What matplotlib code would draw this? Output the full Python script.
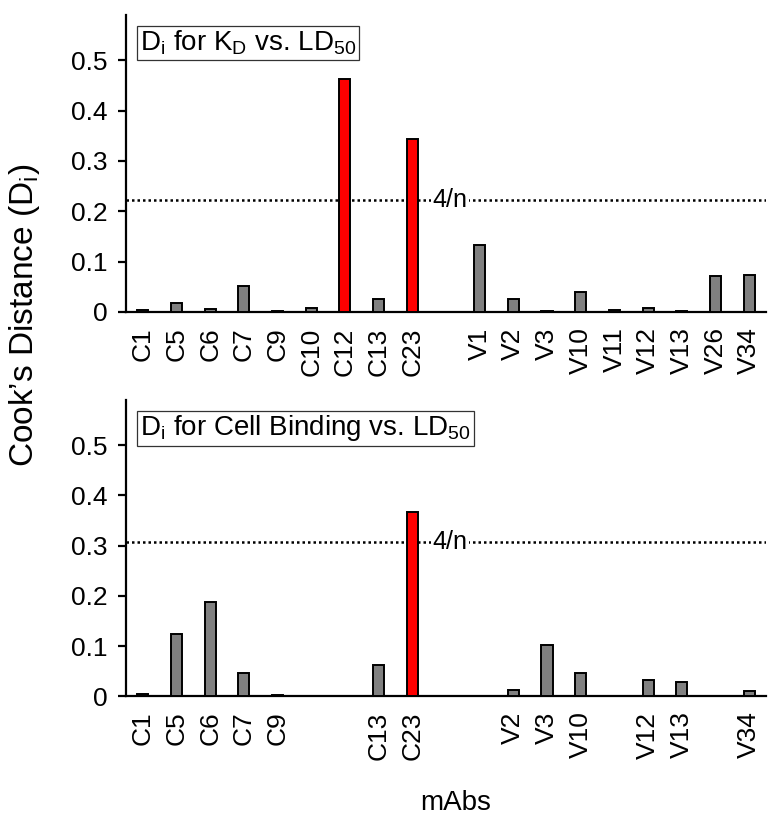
import numpy as np
import matplotlib
matplotlib.use("Agg")
import matplotlib.pyplot as plt

plt.rcParams['font.family'] = ['Liberation Sans', 'DejaVu Sans']
plt.rcParams['mathtext.fontset'] = 'custom'
plt.rcParams['mathtext.rm'] = 'Liberation Sans'
plt.rcParams['mathtext.it'] = 'Liberation Sans:italic'

# slot order shared by both panels (one empty slot between C and V groups)
slots = ["C1", "C5", "C6", "C7", "C9", "C10", "C12", "C13", "C23", "",
         "V1", "V2", "V3", "V10", "V11", "V12", "V13", "V26", "V34"]

kd_mabs = ["C1", "C5", "C6", "C7", "C9", "C10", "C12", "C13", "C23",
           "V1", "V2", "V3", "V10", "V11", "V12", "V13", "V26", "V34"]
kd_vals = [0.003, 0.018, 0.006, 0.052, 0.002, 0.008, 0.463, 0.026, 0.343,
           0.134, 0.026, 0.002, 0.040, 0.004, 0.008, 0.002, 0.071, 0.073]
kd_red = ["C12", "C23"]

cb_mabs = ["C1", "C5", "C6", "C7", "C9", "C13", "C23",
           "V2", "V3", "V10", "V12", "V13", "V34"]
cb_vals = [0.005, 0.125, 0.187, 0.046, 0.002, 0.062, 0.368,
           0.012, 0.103, 0.046, 0.032, 0.028, 0.010]
cb_red = ["C23"]

panel_titles = [r"D$_\mathrm{i}$ for K$_\mathrm{D}$ vs. LD$_\mathrm{50}$",
                r"D$_\mathrm{i}$ for Cell Binding vs. LD$_\mathrm{50}$"]


def draw_panel(ax, mabs, vals, red, title):
    x = [slots.index(m) for m in mabs]
    colors = ["#ff0000" if m in red else "#808080" for m in mabs]
    ax.bar(x, vals, width=0.33, color=colors, edgecolor="black", linewidth=1.4, zorder=3)

    cutoff = 4 / len(mabs)
    ax.axhline(cutoff, color="black", linestyle=(0, (1, 1.2)), linewidth=1.8, zorder=2)
    ax.text(8.6, cutoff, "4/n", fontsize=18, ha="left", va="center", zorder=4,
            bbox=dict(facecolor="white", edgecolor="none", pad=1))

    ax.text(0.022, 0.955, title, transform=ax.transAxes, fontsize=20,
            ha="left", va="top", zorder=5,
            bbox=dict(facecolor="white", edgecolor="#333333", linewidth=0.9, pad=2))

    ax.set_xlim(-0.5, len(slots) - 0.5)
    ax.set_ylim(0, 0.59)
    ax.set_yticks([0, 0.1, 0.2, 0.3, 0.4, 0.5])
    ax.set_yticklabels(["0", "0.1", "0.2", "0.3", "0.4", "0.5"])
    ax.set_xticks(x)
    ax.set_xticklabels(mabs, rotation=90)

    for s in ["top", "right"]:
        ax.spines[s].set_visible(False)
    for s in ["left", "bottom"]:
        ax.spines[s].set_linewidth(1.6)
    ax.tick_params(axis="y", direction="out", length=6, width=1.6, labelsize=19, pad=7)
    ax.tick_params(axis="x", length=0, labelsize=19, pad=11)


fig = plt.figure(figsize=(7.81, 8.26), dpi=100)
ax1 = fig.add_axes([0.1613, 0.6223, 0.8195, 0.3596])
ax2 = fig.add_axes([0.1613, 0.1570, 0.8195, 0.3587])

draw_panel(ax1, kd_mabs, kd_vals, kd_red, panel_titles[0])
draw_panel(ax2, cb_mabs, cb_vals, cb_red, panel_titles[1])

fig.text(0.032, 0.618, r"Cook’s Distance (D$_\mathrm{i}$)", rotation=90,
         fontsize=24, ha="center", va="center")
fig.text(0.583, 0.028, "mAbs", fontsize=20, ha="center", va="center")

fig.savefig("out.png", dpi=100)
